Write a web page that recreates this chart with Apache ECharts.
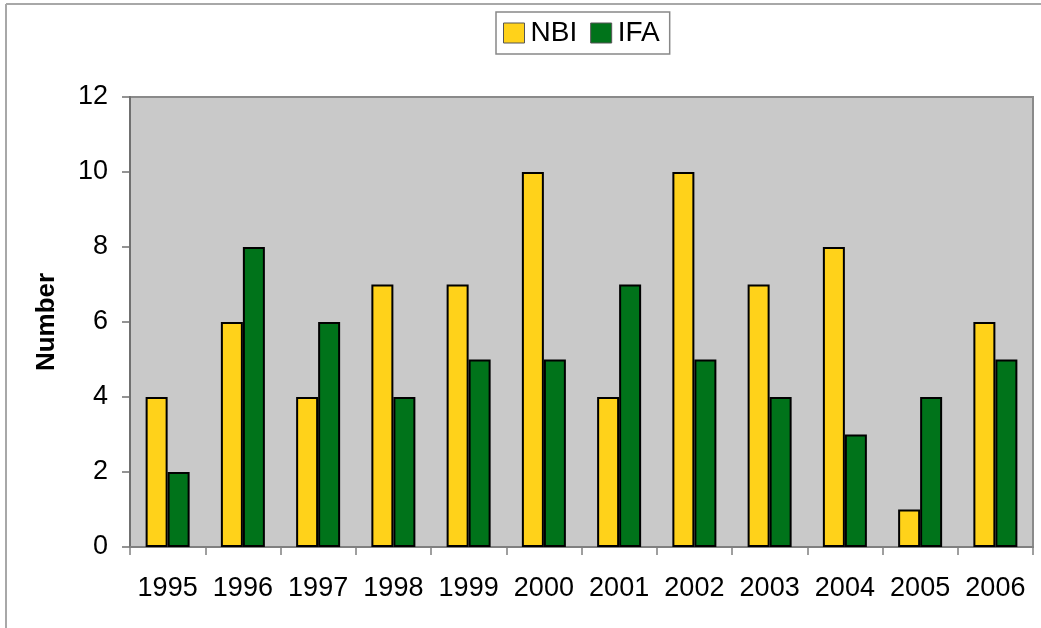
<!DOCTYPE html>
<html><head><meta charset="utf-8">
<script src="https://cdn.jsdelivr.net/npm/echarts@6/dist/echarts.min.js"></script>
<style>html,body{margin:0;padding:0;background:#fff}#c{width:1041px;height:628px}</style>
</head><body><div id="c"></div>
<script>
const years = ['1995','1996','1997','1998','1999','2000','2001','2002','2003','2004','2005','2006'];
const nbi = [4,6,4,7,7,10,4,10,7,8,1,6];
const ifa = [2,8,6,4,5,5,7,5,4,3,4,5];
const yTicks = {min:0, max:12, interval:2};

const chart = echarts.init(document.getElementById('c'), null, {renderer:'canvas'});
const font = '"Liberation Sans", Arial, sans-serif';
chart.setOption({
  animation:false,
  backgroundColor:'#fff',
  graphic:[
    {type:'line', shape:{x1:6,y1:4,x2:1041,y2:4}, style:{stroke:'#a8a8a8', lineWidth:2}},
    {type:'line', shape:{x1:6,y1:4,x2:6,y2:628}, style:{stroke:'#a8a8a8', lineWidth:2}}
  ],
  legend:{
    left:496, top:12,
    padding:[7,10,7,7],
    itemGap:13, itemWidth:21, itemHeight:20,
    borderColor:'#888', borderWidth:1.5,
    icon:'rect',
    itemStyle:{borderColor:'#555', borderWidth:1},
    textStyle:{fontFamily:font, fontSize:28, color:'#000', padding:[0,0,0,1]},
    data:['NBI','IFA']
  },
  grid:{left:130, right:8, top:97, bottom:81, show:true, backgroundColor:'#c9c9c9', borderColor:'#8a8a8a', borderWidth:2},
  xAxis:{
    type:'category', data:years,
    axisLine:{lineStyle:{color:'#808080', width:2}},
    axisTick:{show:true, length:8, interval:0, lineStyle:{color:'#808080', width:1.5}},
    axisLabel:{fontFamily:font, fontSize:27, color:'#000', margin:28, interval:0}
  },
  yAxis:{
    type:'value', min:yTicks.min, max:yTicks.max, interval:yTicks.interval,
    name:'Number', nameLocation:'middle', nameRotate:90, nameGap:70,
    nameTextStyle:{fontFamily:font, fontSize:26, fontWeight:'bold', color:'#000'},
    axisLine:{show:true, lineStyle:{color:'#707070', width:2}},
    axisTick:{show:true, length:8, lineStyle:{color:'#707070', width:1.5}},
    splitLine:{show:false},
    axisLabel:{fontFamily:font, fontSize:27, color:'#000', margin:22}
  },
  series:[
    {name:'NBI', type:'bar', data:nbi, barWidth:22, barGap:'0%',
     itemStyle:{color:'#FFD21A', borderColor:'#000', borderWidth:2}},
    {name:'IFA', type:'bar', data:ifa, barWidth:22, barGap:'0%',
     itemStyle:{color:'#00731A', borderColor:'#000', borderWidth:2}}
  ]
});
</script></body></html>
